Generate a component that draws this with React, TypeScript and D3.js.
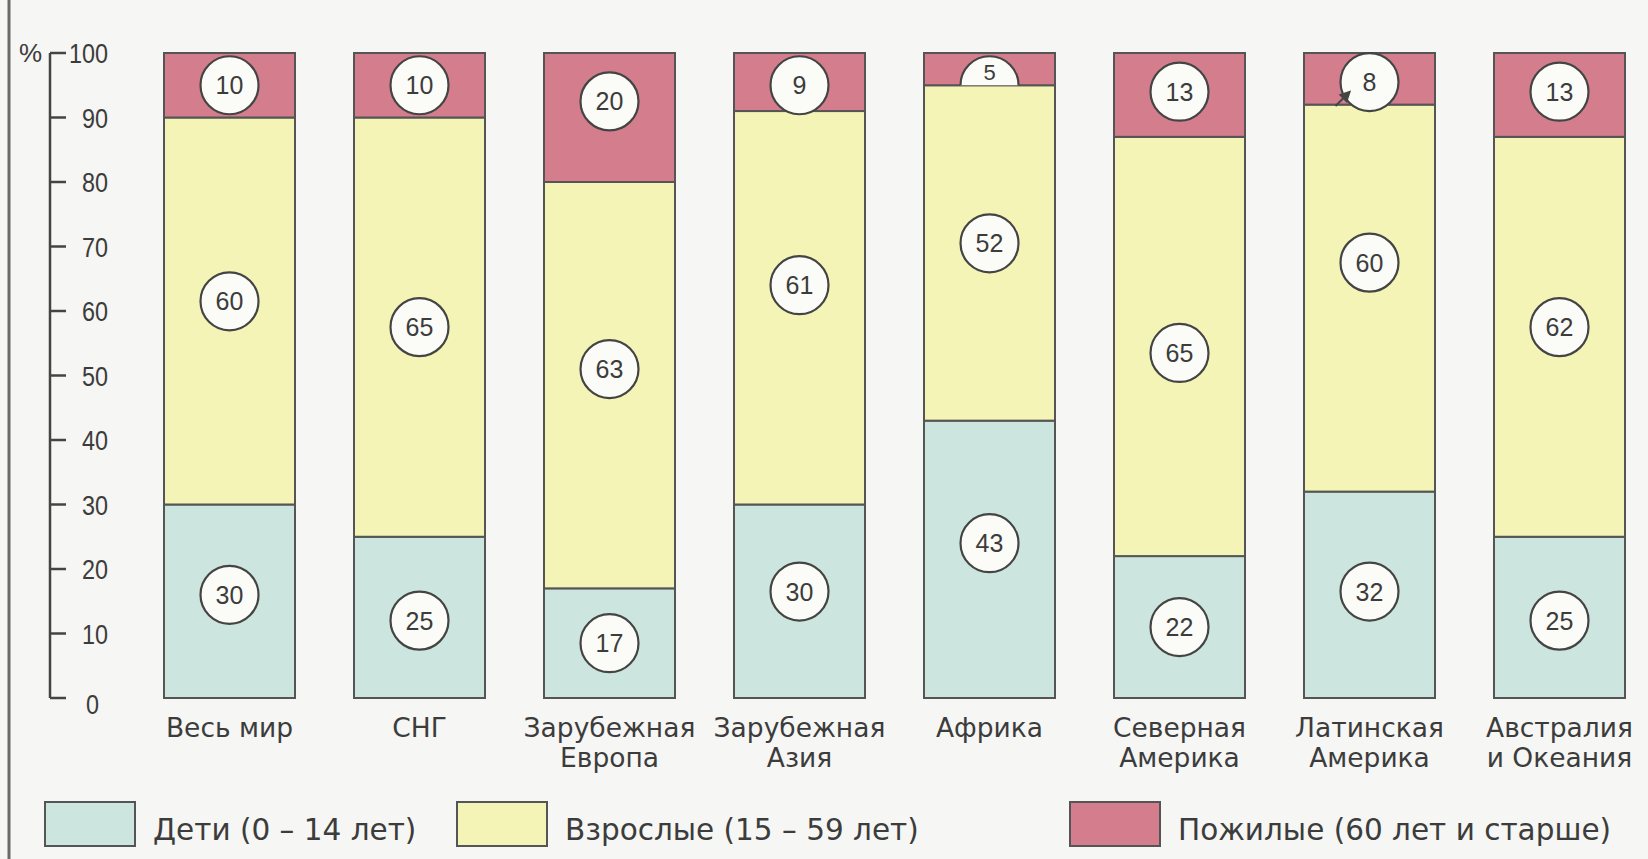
import React from "react";
import * as d3 from "d3";

// ---- data ----
const categories = [
  "Весь мир",
  "СНГ",
  "Зарубежная\nЕвропа",
  "Зарубежная\nАзия",
  "Африка",
  "Северная\nАмерика",
  "Латинская\nАмерика",
  "Австралия\nи Океания",
];
const children = [30, 25, 17, 30, 43, 22, 32, 25];
const adults = [60, 65, 63, 61, 52, 65, 60, 62];
const elderly = [10, 10, 20, 9, 5, 13, 8, 13];
// where each value badge sits, on the % scale
const childrenLabelAt = [16, 12, 8.5, 16.5, 24, 11, 16.5, 12];
const adultsLabelAt = [61.5, 57.5, 51, 64, 70.5, 53.5, 67.5, 57.5];
const elderlyLabelAt = [95, 95, 92.5, 95, 95, 94, 95.5, 94];
const yTicks = [0, 10, 20, 30, 40, 50, 60, 70, 80, 90, 100];
const seriesKeys = ["children", "adults", "elderly"];
const legendLabels = ["Дети (0 – 14 лет)", "Взрослые (15 – 59 лет)", "Пожилые (60 лет и старше)"];

const W = 1648;
const H = 859;
const COLORS: Record<string, string> = {
  children: "#cce5de",
  adults: "#f4f4b6",
  elderly: "#d47d8c",
};
const INK = "#444";
const TEXT = "#3c3c3c";
const FONT = "'Liberation Sans', Arial, Helvetica, sans-serif";
const WIDE = "'DejaVu Sans', Verdana, sans-serif";

export default function App() {
  const rows = categories.map((c, i) => ({
    category: c,
    children: children[i],
    adults: adults[i],
    elderly: elderly[i],
  }));
  const stacked = d3.stack<any>().keys(seriesKeys)(rows);

  const x = d3
    .scaleBand<string>()
    .domain(categories)
    .range([164, 164 + 7 * 190 + 131])
    .paddingInner(59 / 190)
    .paddingOuter(0);
  const y = d3.scaleLinear().domain([0, 100]).range([698, 53]);

  const axisX = 50;
  const tickLen = 16;
  const r = 29;
  const labelAt: Record<string, number[]> = {
    children: childrenLabelAt,
    adults: adultsLabelAt,
    elderly: elderlyLabelAt,
  };

  const legendBoxes = [45, 457, 1070];

  return (
    <svg
      width={W}
      height={H}
      viewBox={`0 0 ${W} ${H}`}
      style={{ position: "absolute", left: 0, top: 0, background: "#f6f6f4" }}
    >
      <defs>
        {stacked[2].map((d: any, i: number) => (
          <clipPath id={`clipEld${i}`} key={i}>
            <rect
              x={x(categories[i])!}
              y={y(d[1])}
              width={x.bandwidth()}
              height={y(d[0]) - y(d[1])}
            />
          </clipPath>
        ))}
      </defs>
      <rect x={0} y={0} width={W} height={H} fill="#f6f6f4" />
      {/* scan border on the left */}
      <line x1={9} y1={0} x2={9} y2={H} stroke="#6a6a6a" strokeWidth={3} />

      {/* y axis */}
      <g>
        <line x1={axisX} y1={y(100)} x2={axisX} y2={y(0)} stroke={INK} strokeWidth={2.5} />
        {yTicks.map((t) => {
          const s = String(t);
          return (
            <g key={t}>
              <line
                x1={axisX}
                x2={axisX + tickLen}
                y1={y(t)}
                y2={y(t)}
                stroke={INK}
                strokeWidth={2.5}
              />
              <text
                x={t === 0 ? 86 : 108}
                y={y(t) + (t === 0 ? 6 : 0)}
                dy="0.36em"
                textAnchor={t === 0 ? "start" : "end"}
                fontFamily={FONT}
                fontSize={28}
                fill={TEXT}
                textLength={s.length * 13}
                lengthAdjust="spacingAndGlyphs"
              >
                {s}
              </text>
            </g>
          );
        })}
        <text x={19} y={y(100)} dy="0.36em" fontFamily={FONT} fontSize={26} fill={TEXT}>
          %
        </text>
      </g>

      {/* bars */}
      {stacked.map((series: any) => (
        <g key={series.key}>
          {series.map((d: any, i: number) => (
            <rect
              key={i}
              x={x(categories[i])!}
              y={y(d[1])}
              width={x.bandwidth()}
              height={y(d[0]) - y(d[1])}
              fill={COLORS[series.key]}
              stroke="#555"
              strokeWidth={2}
            />
          ))}
        </g>
      ))}

      {/* value badges */}
      {stacked.map((series: any) => (
        <g key={"lab" + series.key}>
          {series.map((d: any, i: number) => {
            const cx = x(categories[i])! + x.bandwidth() / 2;
            const v = d[1] - d[0];
            const small = series.key === "elderly" && v < 6;
            const cy = small ? y(d[0]) : y(labelAt[series.key][i]);
            const ty = small ? (y(d[1]) + y(d[0])) / 2 + 3 : cy;
            return (
              <g key={i}>
                <g clipPath={small ? `url(#clipEld${i})` : undefined}>
                  <circle cx={cx} cy={cy} r={r} fill="#fbfbf8" stroke={INK} strokeWidth={2.2} />
                </g>
                <text
                  x={cx}
                  y={ty}
                  dy="0.36em"
                  textAnchor="middle"
                  fontFamily={FONT}
                  fontSize={small ? 22 : 25}
                  fill={TEXT}
                >
                  {v}
                </text>
                {series.key === "elderly" && v === 8 && (
                  <g stroke={INK} strokeWidth={2} fill={INK}>
                    <line x1={cx - 34} y1={cy + 24} x2={cx - 24} y2={cy + 14} />
                    <path
                      d={`M${cx - 20},${cy + 10} L${cx - 29},${cy + 13} L${cx - 23},${cy + 19} Z`}
                    />
                  </g>
                )}
              </g>
            );
          })}
        </g>
      ))}

      {/* category labels */}
      {categories.map((c) => {
        const lines = c.split("\n");
        const cx = x(c)! + x.bandwidth() / 2;
        return (
          <text
            key={c}
            x={cx}
            y={727}
            textAnchor="middle"
            fontFamily={WIDE}
            fontSize={26.5}
            fill={TEXT}
          >
            {lines.map((l, k) => (
              <tspan key={k} x={cx} dy={k === 0 ? "0.36em" : 30.5}>
                {l}
              </tspan>
            ))}
          </text>
        );
      })}

      {/* legend */}
      {seriesKeys.map((k, i) => (
        <g key={k}>
          <rect
            x={legendBoxes[i]}
            y={802}
            width={90}
            height={44}
            fill={COLORS[k]}
            stroke="#555"
            strokeWidth={2}
          />
          <text
            x={legendBoxes[i] + 108}
            y={829}
            dy="0.36em"
            fontFamily={WIDE}
            fontSize={29.5}
            fill={TEXT}
          >
            {legendLabels[i]}
          </text>
        </g>
      ))}
    </svg>
  );
}
